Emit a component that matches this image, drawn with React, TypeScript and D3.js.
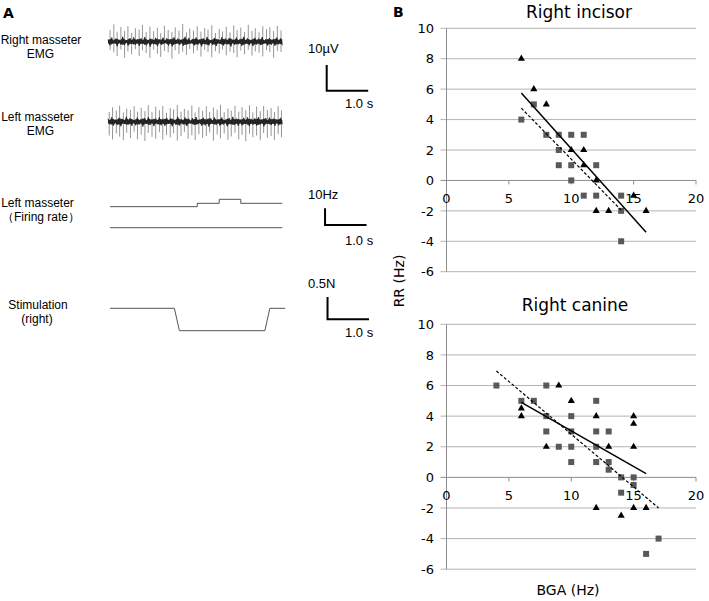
import React from 'react';
import * as d3 from 'd3';

// ---------- panel A : raw traces ----------
const traceSeconds = 4.2;

// EMG background noise (µV), one value per sample
const rightEmgNoise = [
  0.9, -1.4, 1.6, -0.7, 1.2, -1.8, 0.8, -1.1, 1.9, -1.3, 0.6, -1.5, 1.4, -0.9, 1.7, -1.2,
  1.0, -1.6, 1.3, -0.8, 1.8, -1.4, 0.7, -1.9, 1.1, -1.0, 1.5, -1.7, 0.9, -1.2, 1.6, -0.6,
  1.3, -1.5, 1.0, -1.8, 1.7, -0.9, 1.2, -1.3, 0.8, -1.6, 1.9, -1.1, 1.4, -0.7, 1.1, -1.5,
  1.6, -1.2, 0.9, -1.8, 1.3, -1.0, 1.8, -1.4, 0.6, -1.3, 1.5, -1.7, 1.0, -0.8, 1.7, -1.5,
  1.2, -1.1, 1.4, -1.9, 0.8, -1.2, 1.6, -1.0, 1.1, -1.6, 1.9, -0.9, 1.3, -1.4, 0.7, -1.7,
  1.5, -1.1, 1.2, -1.3, 1.8, -0.8, 1.0, -1.5, 1.4, -1.2, 0.9, -1.6, 1.6, -1.0, 1.3, -1.4,
];
const leftEmgNoise = [
  1.2, -1.0, 1.7, -1.5, 0.8, -1.3, 1.5, -1.8, 1.1, -0.9, 1.9, -1.2, 1.3, -1.6, 0.7, -1.4,
  1.6, -1.1, 1.0, -1.9, 1.4, -0.8, 1.8, -1.3, 0.9, -1.7, 1.2, -1.0, 1.7, -1.4, 1.1, -1.6,
  1.5, -0.9, 1.3, -1.8, 0.8, -1.2, 1.9, -1.5, 1.0, -1.1, 1.6, -1.7, 1.2, -0.7, 1.4, -1.3,
  1.8, -1.0, 0.9, -1.6, 1.5, -1.4, 1.1, -1.9, 1.3, -0.8, 1.7, -1.2, 1.0, -1.5, 1.6, -1.1,
  0.8, -1.8, 1.4, -1.0, 1.9, -1.3, 1.2, -1.6, 0.9, -1.4, 1.5, -0.9, 1.7, -1.7, 1.1, -1.2,
  1.3, -1.5, 1.8, -1.1, 1.0, -1.8, 1.4, -0.8, 1.6, -1.3, 1.2, -1.6, 0.9, -1.4, 1.5, -1.0,
];

// EMG spikes: [time s, peak up µV, peak down µV]
const rightEmgSpikes: [number, number, number][] = [
  [0.05, 4.5, 3.2], [0.14, 6.8, 4.1], [0.22, 3.9, 5.6], [0.31, 5.7, 3.0], [0.4, 4.2, 6.2],
  [0.48, 6.1, 3.8], [0.57, 3.5, 4.9], [0.66, 5.2, 2.9], [0.75, 4.8, 5.5], [0.83, 6.5, 3.4],
  [0.92, 3.7, 4.4], [1.01, 5.9, 6.3], [1.1, 4.1, 3.1], [1.19, 5.4, 4.7], [1.27, 3.3, 5.9],
  [1.36, 6.2, 3.6], [1.45, 4.6, 4.2], [1.54, 3.8, 6.6], [1.62, 5.6, 3.3], [1.71, 4.3, 4.8],
  [1.8, 6.9, 3.9], [1.89, 3.6, 5.1], [1.97, 5.1, 2.8], [2.06, 4.4, 4.5], [2.15, 6.0, 3.5],
  [2.24, 3.9, 5.8], [2.33, 5.3, 3.2], [2.41, 4.7, 4.0], [2.5, 6.4, 6.1], [2.59, 3.4, 3.7],
  [2.68, 5.0, 4.6], [2.76, 4.0, 3.0], [2.85, 5.8, 5.3], [2.94, 3.6, 3.9], [3.03, 6.3, 4.4],
  [3.11, 4.5, 6.0], [3.2, 5.5, 3.4], [3.29, 3.8, 4.9], [3.38, 6.6, 3.1], [3.47, 4.2, 5.4],
  [3.55, 5.2, 3.8], [3.64, 3.7, 4.3], [3.73, 6.0, 5.7], [3.82, 4.9, 3.3], [3.9, 5.6, 4.1],
  [3.99, 4.1, 6.2], [4.08, 6.2, 3.6], [4.17, 4.4, 4.0],
];
const leftEmgSpikes: [number, number, number][] = [
  [0.03, 3.8, 5.4], [0.11, 5.6, 6.9], [0.2, 4.3, 4.6], [0.28, 6.2, 5.8], [0.37, 3.6, 7.2],
  [0.45, 5.1, 4.3], [0.54, 4.6, 6.4], [0.63, 6.0, 3.9], [0.71, 3.9, 6.8], [0.8, 5.4, 5.0],
  [0.89, 4.1, 7.5], [0.97, 6.4, 4.4], [1.06, 3.7, 5.9], [1.15, 5.8, 6.6], [1.24, 4.5, 4.1],
  [1.32, 6.1, 7.0], [1.41, 3.5, 5.2], [1.5, 5.3, 6.1], [1.58, 4.8, 4.5], [1.67, 6.5, 7.3],
  [1.76, 3.9, 5.6], [1.84, 5.0, 4.0], [1.93, 4.4, 6.7], [2.02, 6.3, 5.3], [2.1, 3.6, 7.1],
  [2.19, 5.7, 4.8], [2.28, 4.2, 6.3], [2.37, 6.0, 5.5], [2.45, 3.8, 4.2], [2.54, 5.5, 7.4],
  [2.63, 4.7, 5.0], [2.71, 6.6, 6.5], [2.8, 3.7, 4.6], [2.89, 5.2, 7.0], [2.97, 4.3, 5.7],
  [3.06, 6.2, 4.3], [3.15, 3.9, 6.9], [3.23, 5.6, 5.1], [3.32, 4.5, 7.6], [3.41, 6.4, 4.7],
  [3.49, 3.6, 6.0], [3.58, 5.9, 5.4], [3.67, 4.1, 7.2], [3.75, 6.1, 4.4], [3.84, 4.6, 6.2],
  [3.93, 5.3, 5.6], [4.01, 3.8, 7.1], [4.1, 6.0, 4.9], [4.18, 4.4, 6.0],
];

// firing rate (Hz) step trace and its zero line: [time s, Hz]
const firingRate: [number, number][] = [[0.05, 12.6], [2.15, 14.6], [2.68, 17.0], [3.2, 14.6], [4.2, 14.6]];
const firingZero: [number, number][] = [[0.05, 0], [4.2, 0]];

// stimulation force (N): [time s, N]
const stimForce: [number, number][] = [
  [0.05, 0], [1.6, 0], [1.72, -0.5], [3.78, -0.5], [3.9, 0], [4.27, 0],
];

// ---------- panel B : scatter plots ----------
const xTicks = [0, 5, 10, 15, 20];
const yTicks = [-6, -4, -2, 0, 2, 4, 6, 8, 10];

const incisorTriangles: [number, number][] = [
  [6, 8], [7, 6], [8, 5], [10, 2], [11, 2], [11, 1], [12, 0], [12, -2], [13, -2], [15, -1], [16, -2],
];
const incisorSquares: [number, number][] = [
  [6, 4], [7, 5], [8, 3], [9, 3], [10, 3], [11, 3], [9, 2], [9, 1], [10, 1], [12, 1],
  [10, 0], [11, -1], [12, -1], [14, -1], [14, -2], [14, -4],
];
const incisorTriFit: [number, number][] = [[6, 5.75], [16, -3.4]];
const incisorSqFit: [number, number][] = [[6, 4.75], [14, -1.95]];

const canineTriangles: [number, number][] = [
  [9, 6], [6, 4.5], [6, 4], [10, 5], [12, 4], [15, 4], [15, 3.5], [8, 2], [13, 2], [15, 2],
  [12, -2], [14, -2.5], [15, -2], [16, -2],
];
const canineSquares: [number, number][] = [
  [4, 6], [8, 6], [6, 5], [7, 5], [12, 5], [8, 4], [10, 4], [8, 3], [10, 3], [12, 3], [13, 3],
  [9, 2], [10, 2], [12, 2], [10, 1], [12, 1], [13, 1], [13, 0.5], [14, 0], [15, 0], [15, -0.5],
  [14, -1], [17, -4], [16, -5],
];
const canineTriFit: [number, number][] = [[6, 4.9], [16, 0.25]];
const canineSqFit: [number, number][] = [[4, 6.95], [17, -2.0]];

const SANS_A = '"Liberation Sans", Arial, sans-serif';
const SANS_B = '"DejaVu Sans", Verdana, sans-serif';

const t = d3.scaleLinear().domain([0, traceSeconds]).range([108, 282.3]);

const EmgTrace = ({ noise, spikes, y }: { noise: number[]; spikes: [number, number, number][]; y: d3.ScaleLinear<number, number> }) => {
  const tx = (i: number) => t((i * traceSeconds) / (noise.length - 1));
  const line = d3.line<number>().x((_, i) => tx(i)).y(v => y(v));
  const band = d3.area<number>()
    .x((_, i) => tx(i))
    .y0(v => y(-Math.abs(v) * 0.7))
    .y1(v => y(Math.abs(v) * 0.7));
  return (
    <g>
      {spikes.map(([s, up, down], i) => (
        <line key={i} x1={t(s)} x2={t(s)} y1={y(up)} y2={y(-down)} stroke="#7a7a7a" strokeWidth={0.8} />
      ))}
      <path d={band(noise) ?? ''} fill="#2a2a2a" />
      <path d={line(noise) ?? ''} fill="none" stroke="#1c1c1c" strokeWidth={0.8} />
    </g>
  );
};

const ScaleBar = ({ t0, y0, height, label, labelY, unitY }: { t0: number; y0: number; height: number; label: string; labelY: number; unitY: number }) => (
  <g fontFamily={SANS_A} fontSize={13}>
    <path d={`M${t(t0)},${y0 - height}V${y0}H${t(t0 + 1)}`} fill="none" stroke="#000" strokeWidth={2} />
    <text x={308} y={labelY}>{label}</text>
    <text x={345} y={unitY}>1.0 s</text>
  </g>
);

const Scatter = ({ title, titleX, titleY, y, triangles, squares, triFit, sqFit }: {
  title: string; titleX: number; titleY: number; y: d3.ScaleLinear<number, number>;
  triangles: [number, number][]; squares: [number, number][]; triFit: [number, number][]; sqFit: [number, number][];
}) => {
  const x = d3.scaleLinear().domain([0, 20]).range([446.5, 696]);
  const line = d3.line<[number, number]>().x(d => x(d[0])).y(d => y(d[1]));
  const tri = d3.symbol(d3.symbolTriangle, 22)();
  const sq = d3.symbol(d3.symbolSquare, 36)();
  return (
    <g fontFamily={SANS_B}>
      <text x={titleX} y={titleY} textAnchor="middle" fontSize={17}>{title}</text>
      {yTicks.map(v => (
        <g key={v}>
          <line x1={x(0) - 6} x2={x(20)} y1={y(v)} y2={y(v)} stroke={v === 0 ? '#8c8c8c' : '#b4b4b4'} strokeWidth={1} />
          <text x={434} y={y(v)} dy="0.36em" textAnchor="end" fontSize={13}>{v}</text>
        </g>
      ))}
      <line x1={x(0)} x2={x(0)} y1={y(10)} y2={y(-6)} stroke="#8c8c8c" strokeWidth={1} />
      {xTicks.map(v => (
        <g key={v}>
          <line x1={x(v)} x2={x(v)} y1={y(0)} y2={y(0) + 4} stroke="#8c8c8c" strokeWidth={1} />
          <text x={x(v)} y={y(0) + 23} textAnchor="middle" fontSize={13}>{v}</text>
        </g>
      ))}
      {squares.map(([a, b], i) => (
        <path key={`s${i}`} d={sq ?? ''} transform={`translate(${x(a)},${y(b)})`} fill="#595959" />
      ))}
      {triangles.map(([a, b], i) => (
        <path key={`t${i}`} d={tri ?? ''} transform={`translate(${x(a)},${y(b)})`} fill="#000" />
      ))}
      <path d={line(triFit) ?? ''} fill="none" stroke="#000" strokeWidth={1.5} />
      <path d={line(sqFit) ?? ''} fill="none" stroke="#000" strokeWidth={1.2} strokeDasharray="3,2" />
    </g>
  );
};

export default function App() {
  const yRight = d3.scaleLinear().domain([0, 10]).range([41.7, 16]);
  const yLeft = d3.scaleLinear().domain([0, 10]).range([121.7, 96]);
  const yHz = d3.scaleLinear().domain([0, 10]).range([227.7, 211]);
  const yN = d3.scaleLinear().domain([-0.5, 0]).range([330.7, 308.3]);
  const yIncisor = d3.scaleLinear().domain([-6, 10]).range([271.7, 28.3]);
  const yCanine = d3.scaleLinear().domain([-6, 10]).range([569.2, 324.3]);

  const hzLine = d3.line<[number, number]>().x(d => t(d[0])).y(d => yHz(d[1])).curve(d3.curveStepAfter);
  const nLine = d3.line<[number, number]>().x(d => t(d[0])).y(d => yN(d[1]));

  return (
    <div>
      <style>{'body{margin:0}'}</style>
      <svg width={709} height={601} style={{ display: 'block', background: '#fff' }}>
        {/* panel A */}
        <text x={3} y={18} fontFamily={SANS_B} fontWeight="bold" fontSize={14}>A</text>
        <g fontFamily={SANS_A} fontSize={12} textAnchor="middle">
          <text x={41} y={43.5}>Right masseter</text>
          <text x={40.5} y={58}>EMG</text>
          <text x={37.5} y={120.7}>Left masseter</text>
          <text x={40.5} y={134.5}>EMG</text>
          <text x={37.5} y={207}>Left masseter</text>
          <text x={41} y={221}>（Firing rate）</text>
          <text x={38} y={308.5}>Stimulation</text>
          <text x={37} y={322.5}>(right)</text>
        </g>

        <EmgTrace noise={rightEmgNoise} spikes={rightEmgSpikes} y={yRight} />
        <EmgTrace noise={leftEmgNoise} spikes={leftEmgSpikes} y={yLeft} />

        <path d={hzLine(firingRate) ?? ''} fill="none" stroke="#555" strokeWidth={1} />
        <path d={hzLine(firingZero) ?? ''} fill="none" stroke="#555" strokeWidth={1} />
        <path d={nLine(stimForce) ?? ''} fill="none" stroke="#555" strokeWidth={1} />

        <ScaleBar t0={5.27} y0={90.7} height={yRight(0) - yRight(10)} label="10µV" labelY={53} unitY={108} />
        <ScaleBar t0={5.23} y0={225} height={yHz(0) - yHz(10)} label="10Hz" labelY={199} unitY={245} />
        <ScaleBar t0={5.29} y0={319.3} height={yN(-0.5) - yN(0)} label="0.5N" labelY={288} unitY={337} />

        {/* panel B */}
        <text x={393} y={17} fontFamily={SANS_B} fontWeight="bold" fontSize={14}>B</text>
        <Scatter title="Right incisor" titleX={579} titleY={17.5} y={yIncisor}
          triangles={incisorTriangles} squares={incisorSquares} triFit={incisorTriFit} sqFit={incisorSqFit} />
        <Scatter title="Right canine" titleX={575} titleY={310.5} y={yCanine}
          triangles={canineTriangles} squares={canineSquares} triFit={canineTriFit} sqFit={canineSqFit} />
        <text transform="translate(404,281) rotate(-90)" textAnchor="middle" fontFamily={SANS_B} fontSize={14}>RR (Hz)</text>
        <text x={568} y={595} textAnchor="middle" fontFamily={SANS_B} fontSize={14}>BGA (Hz)</text>
      </svg>
    </div>
  );
}
